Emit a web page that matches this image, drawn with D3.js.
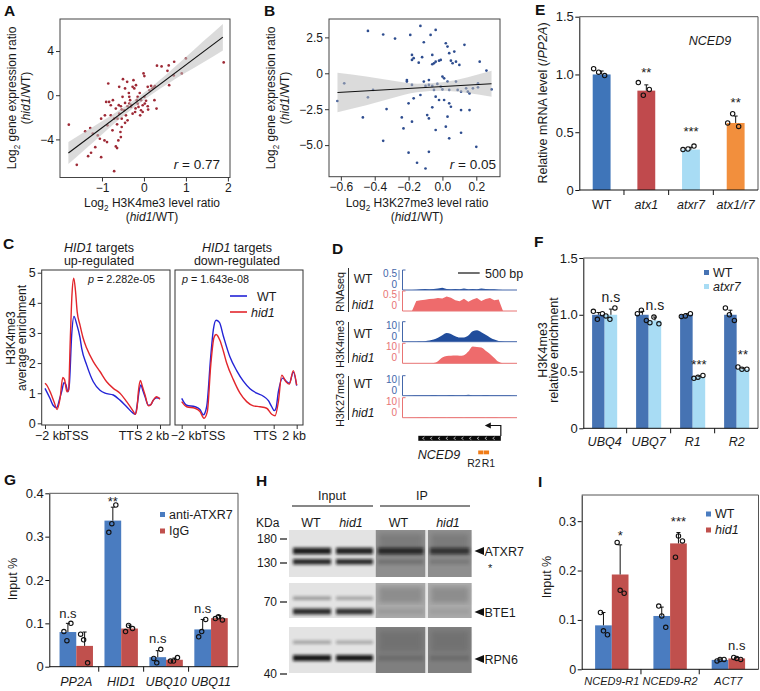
<!DOCTYPE html>
<html>
<head>
<meta charset="utf-8">
<script src="https://cdn.jsdelivr.net/npm/d3@7/dist/d3.min.js"></script>
<style>
html,body{margin:0;padding:0;background:#fff;}
svg{display:block;font-family:"Liberation Sans",Arial,Helvetica,sans-serif;}
</style>
</head>
<body>
<svg id="fig" width="760" height="691" viewBox="0 0 760 691"></svg>
<script>
// ================= DATA =================
// Panel A : log2 H3K4me3 ratio vs log2 expression ratio
const aPts = [
[-1.79,-2.67],[-1.60,-6.30],[-1.40,-3.27],[-1.33,-5.52],[-1.26,-5.21],[-1.28,-2.97],[-1.05,-3.94],[-1.02,-5.61],[-0.94,-4.09],[-0.88,-4.24],
[-0.85,1.06],[-0.90,-0.61],[-0.83,-0.61],[-0.79,-0.91],[-0.74,-0.45],[-0.67,-1.21],[-0.71,-2.12],[-0.75,-3.18],[-0.87,-2.73],[-0.67,-4.64],
[-0.64,-4.79],[-0.61,-4.09],[-0.56,-3.33],[-0.53,-2.88],[-0.55,-3.79],[-0.71,-6.88],[-0.59,0.76],[-0.50,1.45],[-0.45,0.61],[-0.40,1.21],
[-0.51,-0.15],[-0.47,-1.36],[-0.43,-1.82],[-0.39,-2.27],[-0.35,-0.76],[-0.31,-1.06],[-0.27,0.76],[-0.25,1.36],[-0.23,0.61],[-0.19,0.91],
[-0.17,-0.45],[-0.15,-0.76],[-0.13,-1.06],[-0.39,-1.00],[-0.45,-0.70],[-0.53,-1.30],[-0.59,-1.67],[-0.63,-2.12],[-0.79,-1.82],[-0.27,-1.67],
[-0.21,-1.52],[-0.07,-0.45],[-0.03,-0.91],[0.01,-0.15],[-0.01,1.97],[0.01,1.73],[0.09,0.76],[0.13,0.45],[0.17,0.85],[0.23,0.70],
[0.26,0.82],[0.25,-0.45],[0.30,-1.21],[0.02,-0.76],[0.09,-1.00],[-0.09,-1.82],[-0.07,-1.36],[0.31,2.67],[0.42,2.61],[0.56,2.21],
[0.59,2.70],[0.72,3.03],[0.60,0.91],[0.71,1.79],[0.90,1.97],[1.00,3.33],[1.90,2.97],[-0.03,-1.52],[-0.15,-0.15],[-0.35,-0.15],
[-0.33,-0.45],[-0.53,-2.12],[-0.64,-2.64],[-0.93,-1.82],[-1.02,-2.12],[-1.10,-3.64],[-1.22,-3.48],[-1.16,-4.70],[-0.30,-0.90],[-0.20,-1.20],
[0.05,-0.50],[-0.45,-2.50],[-0.60,-0.90],[0.10,-1.30],[-0.10,0.20],[0.20,0.60],[-0.36,0.20],[-0.55,-1.00]
];
const aFit = [-0.1, 2.85];                       // intercept, slope
const aBandX = [-1.8,-1.4,-1.0,-0.6,-0.2,0.2,0.6,1.0,1.4,1.88];
const aBandHalf = [1.0,0.8,0.6,0.42,0.33,0.35,0.5,0.7,0.95,1.2];
const aXTicks = [-1,0,1,2];
const aYTicks = [-4,0,4];

// Panel B : log2 H3K27me3 ratio vs log2 expression ratio
const bPts = [
[-0.62,-1.93],[-0.58,-0.70],[-0.44,-1.67],[-0.47,-3.07],[-0.41,-1.16],[-0.44,2.95],[-0.35,2.70],[-0.28,2.42],[-0.33,-2.49],[-0.35,-4.70],
[-0.24,-3.07],[-0.23,-3.84],[-0.21,-0.47],[-0.21,-0.58],[-0.19,2.67],[-0.18,1.28],[-0.17,1.05],[-0.18,0.93],[-0.20,-2.09],[-0.18,-0.81],
[-0.17,-1.74],[-0.18,-3.37],[-0.20,-5.53],[-0.15,-6.23],[-0.13,3.30],[-0.11,2.16],[-0.12,1.12],[-0.14,0.74],[-0.11,-0.58],[-0.10,-0.88],
[-0.13,-1.51],[-0.10,-6.63],[-0.09,-2.91],[-0.08,-5.47],[-0.07,2.67],[-0.06,1.28],[-0.06,0.63],[-0.04,3.02],[-0.05,0.70],[-0.08,-0.47],
[-0.08,-0.81],[-0.06,-0.88],[-0.05,-1.16],[-0.04,-1.63],[-0.06,-2.37],[-0.08,-3.14],[-0.04,-3.95],[-0.04,0.81],[-0.02,0.88],[-0.01,0.93],
[-0.01,-0.93],[0.00,-1.12],[0.00,-0.23],[-0.03,-0.74],[0.01,-0.35],[0.01,-1.86],[-0.02,-1.86],[0.02,2.09],[0.03,1.86],[0.04,1.40],
[0.03,-0.58],[0.04,-1.16],[0.04,-2.09],[0.05,-2.33],[0.03,-3.02],[0.02,-3.72],[0.04,-4.53],[0.05,0.88],[0.06,0.70],[0.08,0.81],
[0.07,1.51],[0.08,-0.58],[0.09,-1.16],[0.11,-1.28],[0.10,0.58],[0.11,-2.56],[0.11,-4.14],[0.13,1.98],[0.14,-1.05],[0.15,-1.28],
[0.16,-1.40],[0.16,-2.56],[0.20,-5.12],[0.21,-0.70],[0.21,-0.98],[0.22,0.81],[0.26,0.19],[0.29,-1.12],[0.18,-1.05]
];
const bFit = [-0.92, 0.67];
const bBandX = [-0.62,-0.45,-0.3,-0.15,0,0.15,0.29];
const bBandHalf = [1.38,1.0,0.62,0.3,0.3,0.55,0.9];
const bXTicks = [-0.6,-0.4,-0.2,0.0,0.2];
const bYTicks = [-5,-2.5,0,2.5];

// Panel C : metagene profiles (position 0=-2kb, 20=TSS, 80=TTS, 100=+2kb)
const cTickPos = [0,20,80,100];
const cTickLabels = ["\u22122 kb","TSS","TTS","2 kb"];
const cUpPosWT  = [0,4.3,7,10.1,13,14.5,16.5,18,20,21.2,23.2,25.2,27.5,30.4,31.9,36.2,42,47.8,52.2,59.4,65.2,71,76.8,78.5,80.5,82,83.5,85,87,89.9,92,94.2,97.1,100];
const cUpWT     = [1.16,0.83,0.6,0.52,0.85,1.05,1.35,1.3,1.05,1.3,2.93,3.55,3.3,2.85,2.49,1.94,1.38,1.1,1.0,0.94,0.77,0.55,0.33,0.3,0.7,1.1,1.27,1.1,0.88,0.6,0.62,0.77,0.85,0.83];
const cUpPosHid = [0,1.5,5,8,10.5,13,15.5,17,19,20.5,22,23.5,25,26.5,28,30.4,33,36.2,42,47.8,53.6,59.4,65.2,71,76.8,78.5,80,81.2,83,84.5,87,89.9,92,94.2,97.1,100];
const cUpHid    = [1.33,1.27,1.0,0.7,0.46,0.8,1.52,1.45,1.05,1.1,2.8,4.3,4.82,4.4,3.7,3.27,2.85,2.5,2.05,1.72,1.38,1.16,1.0,0.72,0.4,0.3,0.5,1.05,1.42,1.25,0.94,0.58,0.62,0.77,0.88,0.8];
const cDnPosWT  = [0,4.3,11.6,15.9,18.8,21.7,25.2,27.5,29.9,32.8,36.2,42,47.8,53.6,59.4,65.2,71,75.4,78.3,80.5,82,84.1,87.8,90.7,93.6,97.1,100];
const cDnWT     = [0.83,0.6,0.55,0.46,0.28,0.55,2.2,3.1,3.42,3.35,2.9,2.2,1.75,1.4,1.15,1.0,0.9,0.75,0.55,0.42,0.5,1.05,1.5,1.4,1.33,1.7,1.25];
const cDnPosHid = [0,4.3,11.6,15.9,19.4,22.3,25.2,28.1,29.9,33.3,36.2,39.1,44.9,50.7,56.5,62.3,68.1,73.9,78.3,81.2,84.1,87,90.7,93.6,97.1,100];
const cDnHid    = [0.72,0.55,0.5,0.39,0.17,0.39,1.9,2.85,2.95,2.75,2.4,2.0,1.45,1.0,0.72,0.58,0.55,0.5,0.3,0.25,0.72,1.6,1.38,1.3,1.75,1.27];

// Panel D : genome browser tracks at NCED9 (bp, 100-bp bins)
const dPos = [0,100,200,300,400,500,600,700,800,900,1000,1100,1200,1300,1400,1500,1600,1700,1800,1900,2000,2100,2200,2300,2400,2500,2600];
const dRnaWT  = [0,0,0,0.01,0.02,0.03,0.02,0.03,0.04,0.06,0.03,0.02,0.03,0.02,0.04,0.02,0.03,0.02,0.04,0.03,0.02,0.02,0.01,0,0,0,0];
const dRnaHid = [0,0,0,0.28,0.3,0.31,0.33,0.34,0.36,0.35,0.4,0.37,0.3,0.27,0.34,0.26,0.32,0.36,0.28,0.33,0.36,0.3,0.32,0,0,0,0];
const dK4WT   = [0,0,0,0,0.1,0.3,0.6,1.2,2.2,3.6,4.8,4.3,3.0,2.3,2.4,3.5,5.8,6.3,5.2,3.8,2.4,1.2,0.4,0.1,0,0,0];
const dK4Hid  = [0,0,0,0,0,0,0,0.2,1.2,3.2,4.0,4.2,4.3,4.2,4.5,6.5,9.3,9.0,8.8,7.0,5.2,3.0,0.8,0,0,0,0];
const dK27WT  = [0,0,0.1,0.2,0.3,0.2,0.3,0.4,0.3,0.2,0.3,0.4,0.3,0.2,0.3,0.5,0.3,0.2,0.3,0.4,0.3,0.2,0.3,0.2,0.2,0.1,0];
const dK27Hid = [0,0,0.1,0.1,0.2,0.2,0.1,0.2,0.3,0.2,0.1,0.2,0.3,0.2,0.1,0.2,0.2,0.3,0.2,0.1,0.2,0.2,0.1,0.1,0.1,0,0];
const dTrackNames = ["WT","hid1","WT","hid1","WT","hid1"];
const dTrackMax = [0.5,0.5,10,10,10,10];
const dTrackMaxLabel = ["0.5","0.5","10","10","10","10"];
const dGroups = ["RNAseq","H3K4me3","H3K27me3"];
const dGene = [346, 2250];          // gene body (bp), TSS at right end
const dRegionNames = ["R2","R1"];
const dRegionPos = [1788, 1919];

// Panel E : NCED9 expression
const eCats = ["WT","atx1","atxr7","atx1/r7"];
const eVals = [1.0,0.86,0.35,0.58];
const eErr  = [0.03,0.05,0.02,0.06];
const ePts  = [[1.05,1.02,0.99],[0.93,0.82,0.87],[0.35,0.355,0.38],[0.58,0.66,0.55]];
const eSig  = ["","**","***","**"];
const eSigY = [0,0.98,0.47,0.72];

// Panel F : H3K4me3 ChIP-qPCR
const fCats = ["UBQ4","UBQ7","R1","R2"];
const fSeries = ["WT","atxr7"];
const fWT    = [1.0,1.0,1.0,1.0];
const fAtxr7 = [1.0,0.95,0.45,0.52];
const fErrWT = [0.02,0.03,0.01,0.04];
const fErrA  = [0.05,0.03,0.01,0.01];
const fPtsWT = [[1.03,0.96,1.01],[1.01,1.04,0.95],[0.985,0.99,1.01],[1.06,1.0,0.95]];
const fPtsA  = [[0.99,0.96,1.06],[0.93,0.98,0.92],[0.44,0.45,0.465],[0.54,0.52,0.52]];
const fSig   = ["n.s","n.s","***","**"];
const fSigY  = [1.11,1.04,0.52,0.61];

// Panel G : ATXR7 ChIP
const gCats = ["PP2A","HID1","UBQ10","UBQ11"];
const gSeries = ["anti-ATXR7","IgG"];
const gAnti = [0.08,0.337,0.022,0.086];
const gIgG  = [0.048,0.088,0.016,0.112];
const gErrAnti = [0.02,0.031,0.015,0.023];
const gErrIgG  = [0.032,0.008,0.004,0.006];
const gPtsAnti = [[0.081,0.06,0.1],[0.31,0.33,0.373],[0.019,0.009,0.04],[0.069,0.081,0.109]];
const gPtsIgG  = [[0.075,0.062,0.009],[0.081,0.095,0.088],[0.013,0.013,0.021],[0.111,0.115,0.108]];
const gSig  = ["n.s","**","n.s","n.s"];
const gSigY = [0.112,0.37,0.055,0.124];

// Panel H : Co-IP western blot
const hGroups = ["Input","IP"];
const hLanes = ["WT","hid1","WT","hid1"];
const hMarkers = ["180","130","70","40"];
const hProteins = ["ATXR7","BTE1","RPN6"];
const hMainBand  = [[0.92,0.9,0.75,0.65],[0.85,0.82,0.08,0.06],[0.95,0.95,0.15,0.15]];
const hMinorBand = [[0.88,0.86,0.2,0.15],[0.35,0.3,0,0],[0.3,0.28,0,0]];

// Panel I : ATXR7 occupancy at NCED9
const iCats = ["NCED9-R1","NCED9-R2","ACT7"];
const iSeries = ["WT","hid1"];
const iWT  = [0.089,0.108,0.019];
const iHid = [0.192,0.255,0.022];
const iErrWT  = [0.026,0.018,0.002];
const iErrHid = [0.06,0.022,0.002];
const iPtsWT  = [[0.115,0.078,0.07],[0.128,0.108,0.085],[0.017,0.02,0.02]];
const iPtsHid = [[0.257,0.16,0.154],[0.227,0.27,0.26],[0.024,0.022,0.02]];
const iSig  = ["*","***","n.s"];
const iSigY = [0.262,0.29,0.039];

// ================= HELPERS =================
const svg = d3.select("#fig");
const INK = "#1a1a1a";
const BLUE = "#4a7cc0", RED = "#c0504d", LBLUE = "#a8dcf4", ORANGE = "#f28f3d", FBLUE = "#4673b3";

function rich(t, parts, size) {
  let shift = 0;
  parts.forEach(([s, st]) => {
    const ts = t.append("tspan").text(s);
    if (st === "i") ts.attr("font-style", "italic");
    if (st === "sub") { ts.attr("font-size", size * 0.68).attr("dy", size * 0.3); shift = size * 0.3; }
    else if (shift) { ts.attr("dy", -shift); shift = 0; }
  });
}
function T(parent, x, y, str, o = {}) {
  const size = o.size || 12;
  const t = parent.append("text").attr("x", x).attr("y", y)
    .attr("font-size", size).attr("fill", o.fill || INK)
    .attr("text-anchor", o.anchor || "start");
  if (o.bold) t.attr("font-weight", "bold");
  if (o.italic) t.attr("font-style", "italic");
  if (o.rotate) t.attr("transform", `rotate(-90,${x},${y})`);
  if (Array.isArray(str)) rich(t, str, size); else t.text(str);
  return t;
}
function styleAxis(g, size, col) {
  g.attr("font-family", null).attr("font-size", null);
  g.selectAll("text").attr("font-size", size).attr("fill", INK);
  g.selectAll("line").attr("stroke", col || "#333");
  g.select(".domain").attr("stroke", col || "#333");
}
const fmt1 = d => d === 0 ? "0" : d3.format(".1f")(d);

// panel letters
[["A",4,16],["B",264,16],["E",535,15],["C",3,249],["D",332,254],["F",534,247],["G",4,485],["H",256,486],["I",538,487]]
  .forEach(([l,x,y]) => T(svg, x, y, l, {size: 15.5, bold: true, fill: "#111"}));

// ================= SCATTER PANELS (A, B) =================
function scatter(o) {
  const g = svg.append("g");
  const x = d3.scaleLinear().domain(o.xDomain).range([o.left, o.right]);
  const y = d3.scaleLinear().domain(o.yDomain).range([o.bottom, o.top]);
  const fitY = v => o.fit[0] + o.fit[1] * v;
  g.append("g").selectAll("circle").data(o.pts).join("circle")
    .attr("cx", d => x(d[0])).attr("cy", d => y(d[1])).attr("r", 1.35).attr("fill", o.color);
  g.append("path").datum(o.bandX.map((v, i) => [v, o.bandHalf[i]]))
    .attr("d", d3.area().x(d => x(d[0])).y0(d => y(fitY(d[0]) - d[1])).y1(d => y(fitY(d[0]) + d[1])).curve(d3.curveMonotoneX))
    .attr("fill", "#bdbdbd").attr("fill-opacity", 0.55);
  const x0 = o.bandX[0], x1 = o.bandX[o.bandX.length - 1];
  g.append("line").attr("x1", x(x0)).attr("x2", x(x1)).attr("y1", y(fitY(x0))).attr("y2", y(fitY(x1)))
    .attr("stroke", "#111").attr("stroke-width", 1.1);
  g.append("rect").attr("x", o.left).attr("y", o.top).attr("width", o.right - o.left).attr("height", o.bottom - o.top)
    .attr("fill", "none").attr("stroke", "#444").attr("stroke-width", 1);
  const ax = g.append("g").attr("transform", `translate(0,${o.bottom})`)
    .call(d3.axisBottom(x).tickValues(o.xTicks).tickFormat(o.xFmt).tickSize(4).tickSizeOuter(0).tickPadding(2));
  ax.select(".domain").remove(); styleAxis(ax, 12);
  const ay = g.append("g").attr("transform", `translate(${o.left},0)`)
    .call(d3.axisLeft(y).tickValues(o.yTicks).tickFormat(o.yFmt).tickSize(4).tickSizeOuter(0).tickPadding(2));
  ay.select(".domain").remove(); styleAxis(ay, 12);
  return g;
}
const gA = scatter({left: 60, right: 230, top: 19, bottom: 177.5, xDomain: [-2.0, 2.05], yDomain: [-7.45, 6.9],
  pts: aPts, color: "#9e2a36", fit: aFit, bandX: aBandX, bandHalf: aBandHalf,
  xTicks: aXTicks, yTicks: aYTicks, xFmt: d3.format("d"), yFmt: d3.format("d")});
T(gA, 220, 169, [["r","i"],[" = 0.77",""]], {size: 13.5, anchor: "end"});
T(gA, 16, 98, [["Log",""],["2","sub"],[" gene expression ratio",""]], {size: 12, anchor: "middle", rotate: true});
T(gA, 30, 98, [["(",""],["hid1","i"],["/WT)",""]], {size: 12, anchor: "middle", rotate: true});
T(gA, 152, 207, [["Log",""],["2","sub"],[" H3K4me3 level ratio",""]], {size: 12, anchor: "middle"});
T(gA, 152, 220.5, [["(",""],["hid1","i"],["/WT)",""]], {size: 12, anchor: "middle"});

const gB = scatter({left: 329, right: 500, top: 19, bottom: 176.7, xDomain: [-0.67, 0.34], yDomain: [-7.2, 3.78],
  pts: bPts, color: "#2e4d8f", fit: bFit, bandX: bBandX, bandHalf: bBandHalf,
  xTicks: bXTicks, yTicks: bYTicks, xFmt: d3.format(".1f"), yFmt: fmt1});
T(gB, 496, 169, [["r","i"],[" = 0.05",""]], {size: 13.5, anchor: "end"});
T(gB, 275, 98, [["Log",""],["2","sub"],[" gene expression ratio",""]], {size: 12, anchor: "middle", rotate: true});
T(gB, 289, 98, [["(",""],["hid1","i"],["/WT)",""]], {size: 12, anchor: "middle", rotate: true});
T(gB, 417, 207, [["Log",""],["2","sub"],[" H3K27me3 level ratio",""]], {size: 12, anchor: "middle"});
T(gB, 417, 220.5, [["(",""],["hid1","i"],["/WT)",""]], {size: 12, anchor: "middle"});

// ================= PANEL C =================
const CBLUE = "#2323d6", CRED = "#e2262c";
const cY = d3.scaleLinear().domain([-0.056, 5.09]).range([425, 270]);
function profile(o) {
  const g = svg.append("g");
  const x = d3.scaleLinear().domain(o.xDomain).range([o.left, o.right]);
  const line = d3.line().curve(d3.curveMonotoneX);
  g.append("path").attr("d", line(o.posWT.map((p, i) => [x(p), cY(o.wt[i])]))).attr("fill", "none").attr("stroke", CBLUE).attr("stroke-width", 1.4);
  g.append("path").attr("d", line(o.posHid.map((p, i) => [x(p), cY(o.hid[i])]))).attr("fill", "none").attr("stroke", CRED).attr("stroke-width", 1.4);
  g.append("rect").attr("x", o.left).attr("y", 270).attr("width", o.right - o.left).attr("height", 155)
    .attr("fill", "none").attr("stroke", "#333").attr("stroke-width", 1);
  const ax = g.append("g").attr("transform", "translate(0,425)")
    .call(d3.axisBottom(x).tickValues(cTickPos).tickFormat((d, i) => cTickLabels[i]).tickSize(4).tickSizeOuter(0).tickPadding(2));
  ax.select(".domain").remove(); styleAxis(ax, 12.5);
  ax.selectAll(".tick text").attr("dx", (d, i) => o.labelDx[i]);
  return g;
}
const gC1 = profile({left: 41.7, right: 170, xDomain: [-2.87, 108.7], posWT: cUpPosWT, wt: cUpWT, posHid: cUpPosHid, hid: cUpHid, labelDx: [5, 8, -7, -3]});
const gC2 = profile({left: 175, right: 303, xDomain: [-5.83, 105.5], posWT: cDnPosWT, wt: cDnWT, posHid: cDnPosHid, hid: cDnHid, labelDx: [4, 8, -9, -3]});
{
  const ay = gC1.append("g").attr("transform", "translate(41.7,0)")
    .call(d3.axisLeft(cY).tickValues([0,1,2,3,4,5]).tickFormat(d3.format("d")).tickSize(4).tickSizeOuter(0).tickPadding(2));
  ay.select(".domain").remove(); styleAxis(ay, 12.5);
}
T(gC1, 99, 252, [["HID1","i"],[" targets",""]], {size: 12.5, anchor: "middle"});
T(gC1, 99, 264.5, "up-regulated", {size: 12.5, anchor: "middle"});
T(gC2, 237, 252, [["HID1","i"],[" targets",""]], {size: 12.5, anchor: "middle"});
T(gC2, 237, 264.5, "down-regulated", {size: 12.5, anchor: "middle"});
T(gC1, 88, 283, [["p","i"],[" = 2.282e-05",""]], {size: 10.8});
T(gC2, 182, 283, [["p","i"],[" = 1.643e-08",""]], {size: 10.8});
T(gC1, 15, 338, "H3K4me3", {size: 12, anchor: "middle", rotate: true});
T(gC1, 25.5, 338, "average enrichment", {size: 12, anchor: "middle", rotate: true});
gC2.append("line").attr("x1", 230).attr("x2", 247).attr("y1", 296).attr("y2", 296).attr("stroke", CBLUE).attr("stroke-width", 1.6);
gC2.append("line").attr("x1", 230).attr("x2", 247).attr("y1", 312).attr("y2", 312).attr("stroke", CRED).attr("stroke-width", 1.6);
T(gC2, 257, 300.5, "WT", {size: 12.5});
T(gC2, 251, 316.5, "hid1", {size: 12.5, italic: true});

// ================= PANEL D =================
{
  const g = svg.append("g");
  const DB = "#214d9c", DR = "#ee6b6c", DBL = "#4467aa", DRL = "#e87474";
  const dx = d3.scaleLinear().domain([0, 2630]).range([403.3, 517.3]);
  const base = [290, 311, 341.7, 363.3, 395.7, 417.7];
  const sig = [dRnaWT, dRnaHid, dK4WT, dK4Hid, dK27WT, dK27Hid];
  const labBase = [283, 309, 338, 362, 388, 417];
  sig.forEach((s, ti) => {
    const col = ti % 2 ? DR : DB, lcol = ti % 2 ? DRL : DBL;
    const b = base[ti];
    const area = d3.area().x((d, i) => dx(dPos[i])).y0(b).y1(d => b - d / dTrackMax[ti] * 18)
      .curve(ti < 2 ? d3.curveLinear : d3.curveMonotoneX);
    g.append("path").datum(s).attr("d", area).attr("fill", col);
    g.append("line").attr("x1", 402.5).attr("x2", 517).attr("y1", b).attr("y2", b).attr("stroke", lcol).attr("stroke-width", 1);
    g.append("path").attr("d", `M405.5,${b - 20}H402.5V${b}`).attr("fill", "none").attr("stroke", lcol).attr("stroke-width", 1);
    g.append("line").attr("x1", 399).attr("x2", 399).attr("y1", b - 20).attr("y2", b - 10).attr("stroke", lcol).attr("stroke-width", 0.8);
    T(g, 397, b - 13, dTrackMaxLabel[ti], {size: 10, anchor: "end", fill: lcol});
    T(g, 397, b - 2, "0", {size: 10, anchor: "end", fill: lcol});
    T(g, 363, labBase[ti], dTrackNames[ti], {size: 12, anchor: "middle", italic: ti % 2 === 1});
  });
  const brackets = [[268, 312, 292], [322, 363, 344], [376, 420, 400]];
  brackets.forEach(([a, bb, c], i) => {
    g.append("line").attr("x1", 348.5).attr("x2", 348.5).attr("y1", a).attr("y2", bb).attr("stroke", "#333").attr("stroke-width", 1);
    T(g, 344, c, dGroups[i], {size: 10.8, anchor: "middle", rotate: true});
  });
  // scale bar
  g.append("line").attr("x1", dx(1262)).attr("x2", dx(1762)).attr("y1", 273).attr("y2", 273).attr("stroke", "#111").attr("stroke-width", 1.2);
  T(g, 485, 277.5, "500 bp", {size: 12.5});
  // gene model
  g.append("rect").attr("x", dx(dGene[0])).attr("y", 435.8).attr("width", dx(dGene[1]) - dx(dGene[0])).attr("height", 5).attr("fill", "#0a0a0a");
  for (let p = dGene[0] + 120; p < dGene[1] - 40; p += 180) {
    const cx = dx(p);
    g.append("path").attr("d", `M${cx + 1},${436.9}L${cx - 1},${438.3}L${cx + 1},${439.7}`).attr("fill", "none").attr("stroke", "#fff").attr("stroke-width", 0.6);
  }
  const tx = dx(dGene[1]);
  g.append("path").attr("d", `M${tx},436V425.5H${tx - 12}`).attr("fill", "none").attr("stroke", "#111").attr("stroke-width", 1.2);
  g.append("path").attr("d", `M${tx - 16},425.5L${tx - 10},422.5L${tx - 10},428.5Z`).attr("fill", "#111");
  T(g, 439, 458.5, "NCED9", {size: 12.5, anchor: "middle", italic: true});
  dRegionPos.forEach((p, i) => {
    g.append("rect").attr("x", dx(p) - 2.6).attr("y", 450.5).attr("width", 5.2).attr("height", 3.8).attr("fill", "#f07c17");
  });
  T(g, 474, 466.5, dRegionNames[0], {size: 10.5, anchor: "middle"});
  T(g, 488.5, 466.5, dRegionNames[1], {size: 10.5, anchor: "middle"});
}

// ================= BAR CHART HELPER (E, F, G, I) =================
function bars(o) {
  const g = svg.append("g");
  const y = d3.scaleLinear().domain(o.yDomain).range([o.bottom, o.top]);
  const x0 = d3.scaleBand().domain(o.cats).range([o.left, o.right]).paddingInner(o.pi).paddingOuter(o.po);
  const x1 = d3.scaleBand().domain(o.series.map((s, i) => i)).range([0, x0.bandwidth()]);
  g.append("path").attr("d", `M${o.left},${o.top}H${o.right}V${o.bottom}`).attr("fill", "none").attr("stroke", "#555").attr("stroke-width", 1);
  const centers = [];
  o.series.forEach((s, si) => {
    centers[si] = [];
    o.cats.forEach((c, ci) => {
      const bx = x0(c) + x1(si), bw = x1.bandwidth(), cx = bx + bw / 2;
      centers[si][ci] = cx;
      const v = s.values[ci], e = s.err[ci];
      g.append("rect").attr("x", bx).attr("y", y(v)).attr("width", bw).attr("height", y(0) - y(v))
        .attr("fill", s.colors ? s.colors[ci] : s.color);
      g.append("line").attr("x1", cx).attr("x2", cx).attr("y1", y(v)).attr("y2", y(v + e)).attr("stroke", "#111").attr("stroke-width", 1);
      g.append("line").attr("x1", cx - 2).attr("x2", cx + 2).attr("y1", y(v + e)).attr("y2", y(v + e)).attr("stroke", "#111").attr("stroke-width", 1);
      s.points[ci].forEach((p, k) => {
        g.append("circle").attr("cx", cx + o.jit[k]).attr("cy", y(p)).attr("r", 2.2)
          .attr("fill", "none").attr("stroke", "#111").attr("stroke-width", 1.1);
      });
    });
  });
  const ay = g.append("g").attr("transform", `translate(${o.left},0)`)
    .call(d3.axisLeft(y).tickValues(o.yTicks).tickFormat(fmt1).tickSize(4).tickSizeOuter(0).tickPadding(1.5));
  styleAxis(ay, o.tickSize, "#111");
  g.append("line").attr("x1", o.left).attr("x2", o.right).attr("y1", o.bottom).attr("y2", o.bottom).attr("stroke", "#111").attr("stroke-width", 1);
  o.cats.forEach((c, ci) => {
    if (ci > 0) {
      const sx = x0(c) - x0.step() * o.pi / 2;
      g.append("line").attr("x1", sx).attr("x2", sx).attr("y1", o.bottom).attr("y2", o.bottom + 5).attr("stroke", "#111");
    }
    T(g, x0(c) + x0.bandwidth() / 2, o.labelY, c, {size: o.labelSize, anchor: "middle", italic: o.catItalic[ci]});
  });
  o.sig.forEach((s, ci) => {
    if (!s) return;
    T(g, centers[o.sigSeries][ci], y(o.sigY[ci]), s, {size: s === "n.s" ? o.nsSize : 13, anchor: "middle"});
  });
  if (o.legend) o.legend.forEach(([lab, col, ly, it]) => {
    g.append("rect").attr("x", o.legX).attr("y", ly - 2.5).attr("width", 5).attr("height", 5).attr("fill", col);
    T(g, o.legX + 9, ly + 4.3, lab, {size: 12.5, italic: it});
  });
  return {g, y};
}

// E
const E = bars({left: 579.3, right: 758, top: 16.7, bottom: 190, yDomain: [0, 1.5], yTicks: [0, 0.5, 1.0, 1.5], tickSize: 13,
  cats: eCats, pi: 0.6, po: 0.3, jit: [-8, -3, 3],
  series: [{values: eVals, err: eErr, points: ePts, colors: ["#3f75b9", "#c04a4d", LBLUE, ORANGE]}],
  labelY: 208.5, labelSize: 12.5, catItalic: [false, true, true, true],
  sig: eSig, sigY: eSigY, sigSeries: 0, nsSize: 13});
T(E.g, 710, 45, "NCED9", {size: 12.5, anchor: "middle", italic: true});
T(E.g, 547, 103, [["Relative mRNA level (/",""],["PP2A","i"],[")",""]], {size: 12.5, anchor: "middle", rotate: true});

// F
const F = bars({left: 583.3, right: 758, top: 258, bottom: 428.3, yDomain: [0, 1.5], yTicks: [0, 0.5, 1.0, 1.5], tickSize: 13,
  cats: fCats, pi: 0.43, po: 0.2, jit: [-5, -1, 4],
  series: [{values: fWT, err: fErrWT, points: fPtsWT, color: FBLUE}, {values: fAtxr7, err: fErrA, points: fPtsA, color: LBLUE}],
  labelY: 446, labelSize: 12.5, catItalic: [true, true, true, true],
  sig: fSig, sigY: fSigY, sigSeries: 1, nsSize: 14,
  legend: [[fSeries[0], FBLUE, 272.5, false], [fSeries[1], LBLUE, 286.5, true]], legX: 704});
T(F.g, 547, 350, "H3K4me3", {size: 12.5, anchor: "middle", rotate: true});
T(F.g, 557.5, 350, "relative enrichment", {size: 12.5, anchor: "middle", rotate: true});

// G
const G = bars({left: 49.3, right: 238, top: 493.3, bottom: 666.7, yDomain: [0, 0.4], yTicks: [0, 0.1, 0.2, 0.3, 0.4], tickSize: 13,
  cats: gCats, pi: 0.256, po: 0.228, jit: [-4, -1, 3],
  series: [{values: gAnti, err: gErrAnti, points: gPtsAnti, color: BLUE}, {values: gIgG, err: gErrIgG, points: gPtsIgG, color: RED}],
  labelY: 686, labelSize: 12.5, catItalic: [true, true, true, true],
  sig: gSig, sigY: gSigY, sigSeries: 0, nsSize: 13,
  legend: [[gSeries[0], BLUE, 514.5, false], [gSeries[1], RED, 531, false]], legX: 160});
T(G.g, 17, 579, "Input %", {size: 12.5, anchor: "middle", rotate: true});

// I
const I = bars({left: 581.7, right: 758.5, top: 495, bottom: 669.3, yDomain: [0, 0.353], yTicks: [0, 0.1, 0.2, 0.3], tickSize: 12.5,
  cats: iCats, pi: 0.427, po: 0.23, jit: [-3, 0, 4],
  series: [{values: iWT, err: iErrWT, points: iPtsWT, color: BLUE}, {values: iHid, err: iErrHid, points: iPtsHid, color: RED}],
  labelY: 685, labelSize: 11, catItalic: [true, true, true],
  sig: iSig, sigY: iSigY, sigSeries: 1, nsSize: 13,
  legend: [[iSeries[0], BLUE, 514, false], [iSeries[1], RED, 530, true]], legX: 706});
T(I.g, 551, 577, "Input %", {size: 12.5, anchor: "middle", rotate: true});

// ================= PANEL H (western blot) =================
{
  const g = svg.append("g");
  const defs = svg.append("defs");
  defs.append("filter").attr("id", "blur").attr("x", "-20%").attr("y", "-100%").attr("width", "140%").attr("height", "300%")
    .append("feGaussianBlur").attr("stdDeviation", 1.4);
  defs.append("filter").attr("id", "blur2").append("feGaussianBlur").attr("stdDeviation", 2.5);
  const laneX = [[291, 333], [334, 375], [376, 425.5], [428, 471.5]];
  const rows = [{t: 530, b: 577, main: 551, minor: 561.5, ip: "#8e8e8e"},
                {t: 583, b: 618, main: 611.5, minor: 599, ip: "#a9a9a9"},
                {t: 627, b: 673, main: 658, minor: 643, ip: "#7f7f7f"}];
  rows.forEach((r, ri) => {
    g.append("rect").attr("x", 289).attr("y", r.t).attr("width", 183).attr("height", r.b - r.t).attr("fill", "#e3e3e3");
    laneX.forEach(([a, b], li) => {
      if (li >= 2) {
        g.append("rect").attr("x", a).attr("y", r.t).attr("width", b - a).attr("height", r.b - r.t).attr("fill", r.ip);
        g.append("rect").attr("x", a + 3).attr("y", r.t + 4).attr("width", b - a - 6).attr("height", (r.b - r.t) * 0.45)
          .attr("fill", "#5a5a5a").attr("opacity", 0.35).attr("filter", "url(#blur2)");
      }
      const mh = ri === 0 ? 6.5 : 6;
      g.append("rect").attr("x", a + 2).attr("y", r.main - mh / 2).attr("width", b - a - 4).attr("height", mh)
        .attr("fill", "#111").attr("opacity", hMainBand[ri][li]).attr("filter", "url(#blur)");
      if (hMinorBand[ri][li] > 0)
        g.append("rect").attr("x", a + 2).attr("y", r.minor - 2.5).attr("width", b - a - 4).attr("height", ri === 0 ? 5.5 : 3.5)
          .attr("fill", "#111").attr("opacity", hMinorBand[ri][li]).attr("filter", "url(#blur)");
    });
    g.append("rect").attr("x", 425.5).attr("y", r.t).attr("width", 2.5).attr("height", r.b - r.t).attr("fill", "#e6e6e6");
    g.append("rect").attr("x", 375).attr("y", r.t).attr("width", 1).attr("height", r.b - r.t).attr("fill", "#d0d0d0");
  });
  // group headers
  T(g, 332, 500, hGroups[0], {size: 12.5, anchor: "middle"});
  T(g, 422, 500, hGroups[1], {size: 12.5, anchor: "middle"});
  g.append("line").attr("x1", 292).attr("x2", 373).attr("y1", 506).attr("y2", 506).attr("stroke", "#111").attr("stroke-width", 1.2);
  g.append("line").attr("x1", 380).attr("x2", 470).attr("y1", 506).attr("y2", 506).attr("stroke", "#111").attr("stroke-width", 1.2);
  const laneC = [311, 351, 398.5, 448];
  hLanes.forEach((l, i) => T(g, laneC[i], 527, l, {size: 12.5, anchor: "middle", italic: l === "hid1"}));
  T(g, 256, 527, "KDa", {size: 12});
  const my = [539, 563, 602, 674];
  hMarkers.forEach((m, i) => {
    T(g, 277, my[i] + 4.3, m, {size: 12, anchor: "end"});
    g.append("line").attr("x1", 280).attr("x2", 287).attr("y1", my[i]).attr("y2", my[i]).attr("stroke", "#111").attr("stroke-width", 1.2);
  });
  const py = [551, 612, 659];
  hProteins.forEach((p, i) => {
    g.append("path").attr("d", `M474.5,${py[i]}L484,${py[i] - 4}L484,${py[i] + 4}Z`).attr("fill", "#111");
    T(g, 484.5, py[i] + 4.5, p, {size: 12.5});
  });
  T(g, 488, 572, "*", {size: 11});
}
</script>
</body>
</html>
